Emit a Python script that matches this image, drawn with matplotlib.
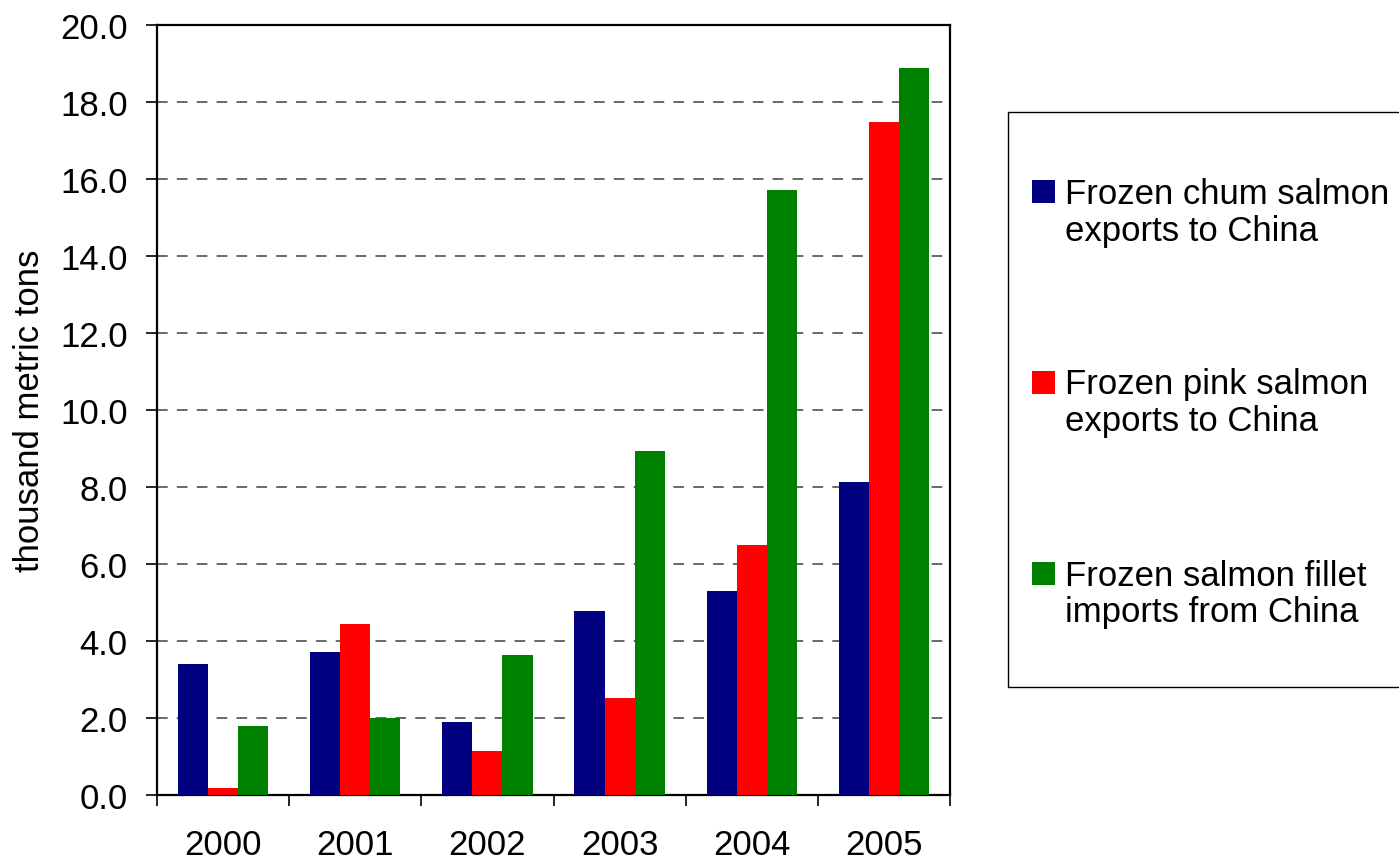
import numpy as np
import matplotlib.pyplot as plt
from matplotlib.patches import Rectangle

plt.rcParams['font.family'] = ['Liberation Sans', 'DejaVu Sans']

# years and trade volumes (thousand metric tons)
years = ["2000", "2001", "2002", "2003", "2004", "2005"]
chum_exports = [3.41, 3.72, 1.89, 4.77, 5.30, 8.13]
pink_exports = [0.17, 4.44, 1.14, 2.51, 6.49, 17.47]
fillet_imports = [1.80, 2.00, 3.63, 8.94, 15.71, 18.88]

labels = [["Frozen chum salmon", "exports to China"],
          ["Frozen pink salmon", "exports to China"],
          ["Frozen salmon fillet", "imports from China"]]
colors = ["#000080", "#FF0000", "#008000"]

W, H = 1399, 862
fig = plt.figure(figsize=(W / 100, H / 100), dpi=100)
ax = fig.add_axes([157 / W, 1 - 796 / H, 793 / W, 770 / H])

x = np.arange(len(years))
w = 0.228
for i, (vals, c) in enumerate(zip([chum_exports, pink_exports, fillet_imports], colors)):
    ax.bar(x + (i - 1) * w, vals, width=w, color=c, edgecolor="none", zorder=3)

ax.set_xlim(-0.5, len(years) - 0.5)
ax.set_ylim(0, 20)

# y axis
yt = np.arange(0, 20.1, 2.0)
ax.set_yticks(yt)
ax.set_yticklabels([f"{v:.1f}" for v in yt])
for v in yt[1:-1]:
    ax.axhline(v, color="#404040", lw=1.1, ls=(0, (7, 6)), zorder=1)
ax.tick_params(axis="y", direction="out", length=8, width=1.2, pad=13, labelsize=25)

# x axis: labels at centers, tick marks between groups
ax.set_xticks(x)
ax.set_xticklabels(years)
ax.tick_params(axis="x", which="major", length=0, pad=24, labelsize=25)
ax.set_xticks(np.arange(-0.5, len(years), 1.0), minor=True)
ax.tick_params(axis="x", which="minor", direction="out", length=8, width=1.2)

for s in ax.spines.values():
    s.set_linewidth(1.6)

ax.set_ylabel("thousand metric tons", fontsize=25, labelpad=10)


def px(xp, yp):
    # pixel position (from top-left) -> figure fraction
    return xp / W, 1 - yp / H


# legend box (runs off the right edge)
fig.patches.append(Rectangle(px(1008, 688), 500 / W, 575 / H,
                             transform=fig.transFigure, facecolor="white",
                             edgecolor="black", lw=1.0, zorder=0))
for i, (lines, c) in enumerate(zip(labels, colors)):
    base = 203.5 + i * 191
    fig.patches.append(Rectangle(px(1031.5, base), 23.5 / W, 23 / H,
                                 transform=fig.transFigure, facecolor=c,
                                 edgecolor="none", zorder=1))
    for j, line in enumerate(lines):
        fig.text(*px(1065, base + j * 37), line, fontsize=25,
                 ha="left", va="baseline")

fig.savefig("out.png", dpi=100)
